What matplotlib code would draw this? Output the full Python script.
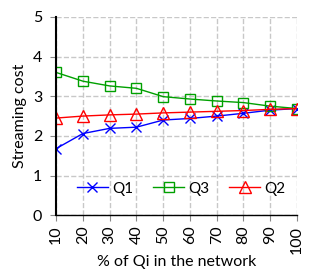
import numpy as np
import matplotlib.pyplot as plt

plt.rcParams['font.family'] = ['Lato', 'DejaVu Sans']

pct = [10, 20, 30, 40, 50, 60, 70, 80, 90, 100]
q1 = [1.68, 2.06, 2.19, 2.22, 2.40, 2.44, 2.50, 2.57, 2.65, 2.69]
q3 = [3.60, 3.38, 3.26, 3.20, 2.99, 2.93, 2.88, 2.84, 2.75, 2.69]
q2 = [2.45, 2.50, 2.53, 2.55, 2.58, 2.60, 2.62, 2.64, 2.67, 2.69]

fig = plt.figure(figsize=(3.12, 2.69), dpi=100)
ax = fig.add_axes([0.18, 0.2, 0.772, 0.737])

ax.plot(pct, q1, color='blue', marker='x', ms=7, mew=1, lw=1, label='Q1')
ax.plot(pct, q3, color='#00a000', marker='s', ms=7, mfc='none', mew=1, lw=1, label='Q3')
ax.plot(pct, q2, color='red', marker='^', ms=8, mfc='none', mew=1, lw=1, label='Q2')

ax.set_xlim(10, 100)
ax.set_ylim(0, 5)
ax.set_xticks(pct)
ax.set_xticklabels([str(p) for p in pct], rotation=90)
ax.set_yticks(range(6))
ax.grid(True, color='#c8c8c8', ls='--', lw=1)
ax.set_axisbelow(True)
for s in ['top', 'right']:
    ax.spines[s].set_visible(False)
ax.spines['left'].set_linewidth(1.5)
ax.spines['bottom'].set_linewidth(1)
ax.tick_params(labelsize=11.5, length=4, color='#888888')
ax.tick_params(axis='y', pad=6)
ax.set_xlabel('% of Qi in the network', fontsize=11.5, labelpad=1)
ax.set_ylabel('Streaming cost', fontsize=11.5, labelpad=4)
ax.legend(loc='lower center', ncol=3, frameon=False, fontsize=11,
          bbox_to_anchor=(0.52, 0.03), handlelength=2.0, columnspacing=1.3, handletextpad=0.3)

fig.savefig('out.png', dpi=100)
